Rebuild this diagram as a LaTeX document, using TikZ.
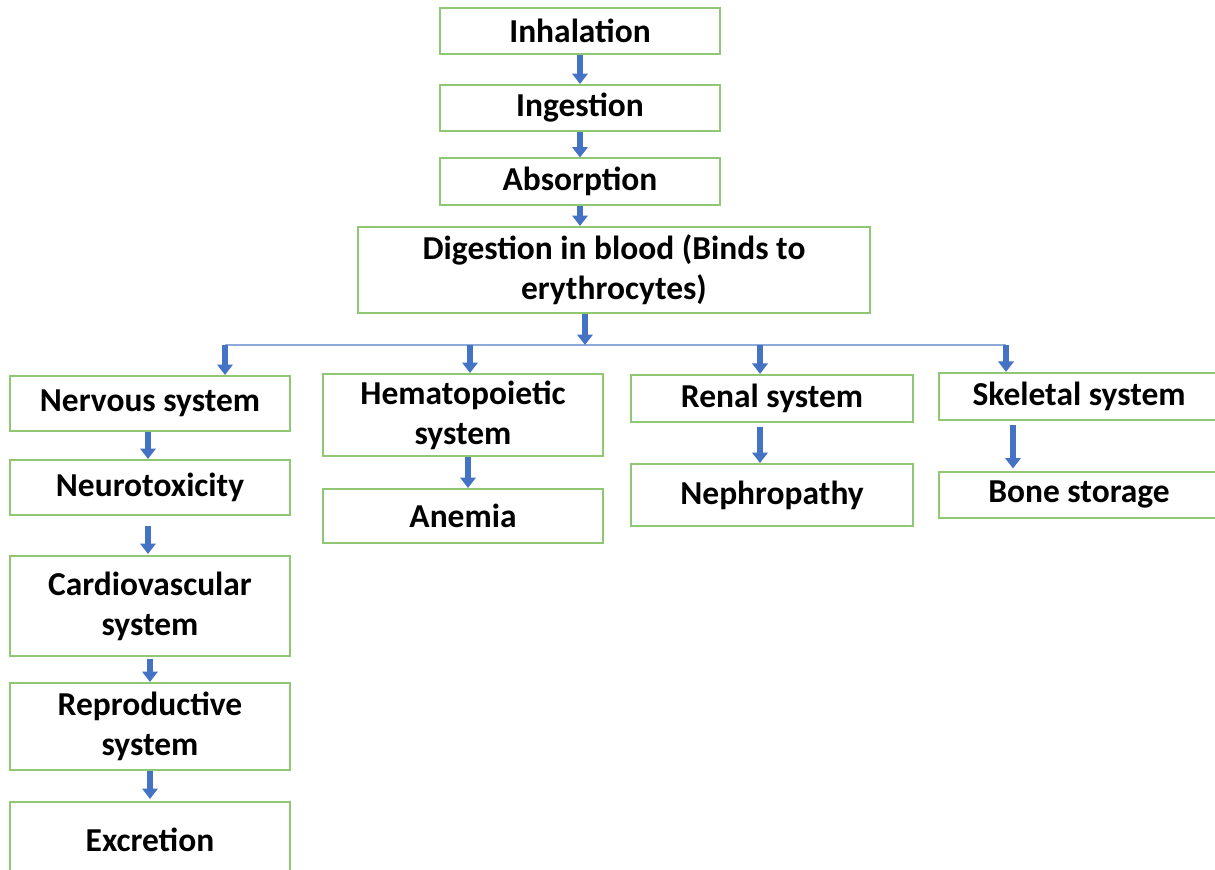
\documentclass[tikz,border=0pt]{standalone}
\usepackage{fontspec}
\setmainfont{Carlito}
\usepackage{xcolor}
\usepackage{tikz}
\usetikzlibrary{positioning, arrows.meta, calc}

\definecolor{boxgreen}{HTML}{8FC773}
\definecolor{flowblue}{HTML}{4472C4}
\definecolor{linkblue}{HTML}{8EAADB}

\begin{document}
\begin{tikzpicture}[
        x=0.025cm, y=-0.025cm,
        stage/.style={draw=boxgreen, line width=0.05cm, fill=white, minimum width=7cm, minimum height=#1, inner sep=0pt, align=center, font=\fontsize{23.8}{28.5}\selectfont\bfseries},
        stage/.default=1.15cm,
        flow/.style={-{Triangle[width=0.38cm, length=0.26cm]}, line width=0.13cm, flowblue},
        link/.style={line width=0.04cm, linkblue},
    ]
    \clip (0,0) rectangle (1215,869);
    \fill[white] (0,0) rectangle (1215,869);

    % Intake chain
    \node[stage] (inha) at (580,31) {Inhalation};
    \node[stage] (inge) at (580,108) {Ingestion};
    \node[stage] (abso) at (580,181.5) {Absorption};
    \node[stage=2.15cm, minimum width=12.8cm] (dige) at (614,270) {Digestion in blood (Binds to\\erythrocytes)};

    \draw[flow] (inha) -- (inge);
    \draw[flow] (inge) -- (abso);
    \draw[flow] (abso.south) -- (abso.south |- dige.north);

    % Split line
    \coordinate (split) at (585,345);
    \coordinate (brA) at (225,345);
    \coordinate (brB) at (470,345);
    \coordinate (brC) at (760,345);
    \coordinate (brD) at (1006,345);
    \draw[link] (brA) -- (brD);
    \draw[flow] (split |- dige.south) -- (split);

    % Organ systems
    \node[stage=1.375cm] (nerv) at (150,403.5) {Nervous system};
    \node[stage=2.05cm] (hema) at (463,415) {Hematopoietic\\system};
    \node[stage=1.18cm, minimum width=7.025cm] (rena) at (772,398.5) {Renal system};
    \node[stage=1.18cm] (skel) at (1079,396.5) {Skeletal system};

    \draw[flow] (brA) -- (brA |- nerv.north);
    \draw[flow] (brB) -- (brB |- hema.north);
    \draw[flow] (brC) -- (brC |- rena.north);
    \draw[flow] (brD) -- (brD |- skel.north);

    % Effects
    \node[stage=1.375cm] (neur) at (150,487.5) {Neurotoxicity};
    \node[stage=1.35cm] (anem) at (463,516) {Anemia};
    \node[stage=1.55cm, minimum width=7.025cm] (neph) at (772,495) {Nephropathy};
    \node[stage=1.15cm] (bone) at (1079,494.5) {Bone storage};

    \draw[flow] (nerv.south) ++(-2,0) -- ($(neur.north)+(-2,0)$);
    \draw[flow] (hema.south) ++(5,0) -- ($(anem.north)+(5,0)$);
    \draw[flow] ($(rena.south)+(-12,4)$) -- ($(neph.north)+(-12,0)$);
    \draw[flow] ($(skel.south)+(-66,4)$) -- ($(bone.north)+(-66,-2)$);

    % Nervous system chain
    \node[stage=2.5cm] (card) at (150,606) {Cardiovascular\\system};
    \node[stage=2.175cm] (repr) at (150,726.5) {Reproductive\\system};
    \node[stage=1.9cm] (excr) at (150,840) {Excretion};

    \draw[flow] ($(neur.south)+(-2,10)$) -- ($(card.north)+(-2,-1)$);
    \draw[flow] ($(card.south)+(0,2)$) -- (repr.north);
    \draw[flow] (repr) -- ($(excr.north)+(0,-2)$);
\end{tikzpicture}
\end{document}
